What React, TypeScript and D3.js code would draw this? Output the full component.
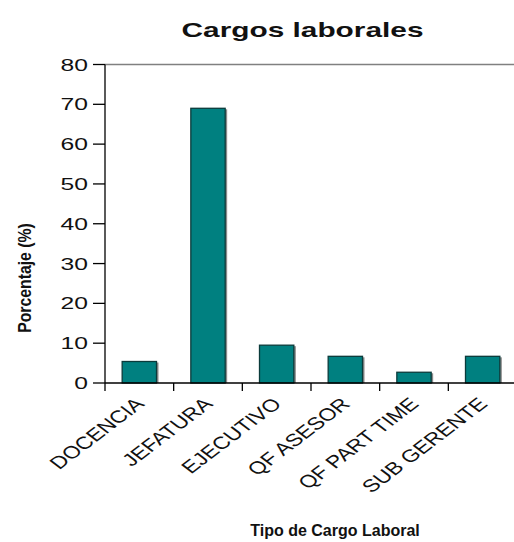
import React from "react";
import * as d3 from "d3";

const categories = ["DOCENCIA", "JEFATURA", "EJECUTIVO", "QF ASESOR", "QF PART TIME", "SUB GERENTE"];
const values = [5.4, 69, 9.5, 6.7, 2.7, 6.7];
const yTicks = [0, 10, 20, 30, 40, 50, 60, 70, 80];

const W = 514;
const H = 542;
const left = 105;
const right = 517;
const top = 64.5;
const bottom = 383;

export default function App() {
  const x = d3.scaleBand<string>().domain(categories).range([left, right]).paddingInner(0.5).paddingOuter(0.25);
  const y = d3.scaleLinear().domain([0, 80]).range([bottom, top]);
  const step = x.step();
  const font = "'Liberation Sans', Arial, sans-serif";
  const sx = 1.45;
  const lsx = 1.32;
  return (
    <svg width={W} height={H} style={{ position: "absolute", left: 0, top: 0, background: "#fff" }} fontFamily={font}>
      <text transform={`translate(302.5 37) scale(1.53 1)`} textAnchor="middle" fontSize={19.5} fontWeight="bold" fill="#111">Cargos laborales</text>
      {/* top border */}
      <line x1={left} x2={W} y1={top} y2={top} stroke="#808080" strokeWidth={1.5} />
      {/* bars */}
      {categories.map((c, i) => (
        <g key={c}>
          <rect x={(x(c) as number) + 2} y={y(values[i]) + 1} width={x.bandwidth()} height={bottom - y(values[i]) - 1} fill="#8a8a8a" />
          <rect x={x(c)} y={y(values[i])} width={x.bandwidth()} height={bottom - y(values[i])} fill="#008080" stroke="#0b3b3b" strokeWidth={1.3} />
        </g>
      ))}
      {/* y axis */}
      <line x1={left} x2={left} y1={top} y2={bottom} stroke="#000" strokeWidth={1.3} />
      {yTicks.map((t) => (
        <g key={t}>
          <line x1={93} x2={left} y1={y(t)} y2={y(t)} stroke="#000" strokeWidth={1.3} />
          <text transform={`translate(88 ${y(t) + 6}) scale(${sx} 1)`} textAnchor="end" fontSize={17} fill="#111">{t}</text>
        </g>
      ))}
      {/* x axis */}
      <line x1={left} x2={W} y1={bottom} y2={bottom} stroke="#000" strokeWidth={1.3} />
      {categories.map((c, i) => (
        <line key={"t" + c} x1={left + i * step} x2={left + i * step} y1={bottom} y2={bottom + 8} stroke="#000" strokeWidth={1.3} />
      ))}
      {categories.map((c) => {
        const cx = (x(c) as number) + x.bandwidth() / 2 + 6;
        const cy = 405;
        return (
          <text key={"l" + c} textAnchor="end" fontSize={17.5} fill="#111" transform={`translate(${cx} ${cy}) scale(${lsx} 1) rotate(-45)`}>{c}</text>
        );
      })}
      <text x={335} y={536} textAnchor="middle" fontSize={16} fontWeight="bold" fill="#111">Tipo de Cargo Laboral</text>
      <text transform={`translate(31 278) scale(1.2 1) rotate(-90)`} textAnchor="middle" fontSize={15.8} fontWeight="bold" fill="#111">Porcentaje (%)</text>
    </svg>
  );
}
